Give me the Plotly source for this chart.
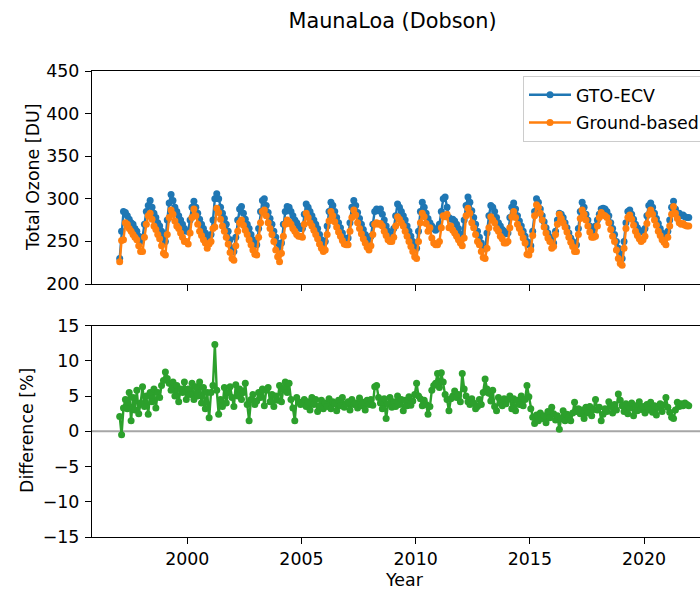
import plotly.graph_objects as go

# ---- data (monthly, Jan 1997 .. Dec 2021) ----
years = list(range(1997, 2022))
months = list(range(1, 13))

gto_ecv = [
    230, 262, 285, 284, 280, 276, 272, 270, 265, 262, 256, 250,  # 1997
    255, 270, 285, 292, 298, 290, 283, 278, 272, 268, 262, 255,  # 1998
    250, 275, 295, 305, 298, 290, 285, 280, 275, 270, 265, 262,  # 1999
    262, 275, 290, 297, 290, 283, 276, 270, 265, 260, 255, 252,  # 2000
    258, 275, 300, 306, 300, 290, 283, 277, 270, 262, 252, 242,  # 2001
    238, 255, 275, 288, 291, 283, 276, 270, 265, 258, 252, 246,  # 2002
    246, 265, 285, 298, 300, 292, 284, 277, 270, 262, 255, 248,  # 2003
    242, 248, 270, 285, 291, 290, 285, 280, 275, 272, 268, 265,  # 2004
    265, 282, 294, 290, 285, 280, 275, 270, 265, 258, 252, 246,  # 2005
    250, 268, 285, 296, 292, 285, 278, 272, 266, 260, 254, 250,  # 2006
    254, 272, 290, 298, 292, 284, 277, 270, 264, 258, 252, 249,  # 2007
    256, 270, 285, 288, 286, 288, 282, 275, 268, 262, 258, 257,  # 2008
    265, 280, 294, 290, 285, 280, 275, 268, 262, 256, 250, 244,  # 2009
    242, 262, 285, 296, 290, 283, 277, 272, 268, 265, 263, 265,  # 2010
    270, 285, 300, 302, 290, 278, 276, 276, 274, 270, 265, 258,  # 2011
    258, 275, 292, 302, 296, 286, 278, 270, 262, 255, 248, 242,  # 2012
    242, 260, 280, 292, 290, 285, 278, 272, 268, 264, 262, 259,  # 2013
    260, 278, 290, 295, 288, 280, 274, 268, 262, 256, 250, 246,  # 2014
    245, 262, 285, 300, 296, 288, 280, 273, 266, 260, 255, 250,  # 2015
    248, 262, 275, 283, 282, 278, 272, 266, 260, 254, 250, 248,  # 2016
    246, 265, 285, 296, 290, 282, 275, 268, 262, 257, 268, 275,  # 2017
    282, 288, 289, 288, 285, 280, 272, 265, 258, 250, 242, 235,  # 2018
    230, 250, 272, 285, 287, 282, 276, 270, 266, 263, 261, 262,  # 2019
    265, 280, 292, 295, 290, 283, 277, 271, 265, 260, 256, 258,  # 2020
    262, 275, 290, 297, 288, 282, 283, 280, 281, 279, 278, 278,  # 2021
]

ground_based = [
    226, 251, 252, 272, 270, 265, 262, 258, 255, 252, 245, 238,  # 1997
    238, 255, 270, 280, 283, 276, 268, 264, 258, 253, 245, 236,  # 1998
    234, 258, 278, 287, 282, 274, 268, 265, 260, 255, 250, 250,  # 1999
    247, 260, 278, 288, 280, 270, 262, 257, 252, 248, 242, 247,  # 2000
    250, 265, 267, 289, 284, 276, 268, 262, 255, 247, 237, 230,  # 2001
    228, 245, 262, 272, 275, 269, 263, 258, 252, 246, 240, 235,  # 2002
    234, 255, 272, 285, 287, 280, 272, 265, 258, 250, 240, 232,  # 2003
    226, 236, 256, 270, 275, 273, 270, 265, 262, 258, 256, 256,  # 2004
    255, 270, 283, 278, 272, 268, 263, 258, 253, 247, 242, 238,  # 2005
    240, 258, 274, 285, 280, 273, 267, 261, 256, 251, 247, 246,  # 2006
    246, 262, 278, 287, 281, 272, 265, 259, 253, 248, 243, 240,  # 2007
    245, 258, 270, 272, 270, 271, 268, 262, 257, 252, 250, 250,  # 2008
    255, 268, 279, 276, 272, 268, 262, 256, 250, 244, 238, 232,  # 2009
    230, 250, 272, 283, 279, 271, 262, 266, 254, 248, 246, 246,  # 2010
    250, 266, 280, 279, 282, 266, 268, 263, 260, 256, 252, 248,  # 2011
    245, 254, 280, 289, 283, 272, 266, 258, 250, 246, 238, 231,  # 2012
    230, 242, 266, 279, 275, 272, 265, 262, 256, 253, 248, 248,  # 2013
    250, 266, 279, 285, 278, 270, 265, 260, 254, 248, 235, 234,  # 2014
    240, 257, 280, 293, 290, 283, 275, 267, 260, 254, 250, 242,  # 2015
    244, 258, 270, 282, 277, 272, 267, 261, 255, 249, 244, 238,  # 2016
    238, 258, 277, 287, 282, 275, 268, 261, 255, 255, 256, 268,  # 2017
    278, 284, 281, 280, 278, 272, 264, 256, 250, 240, 230, 224,  # 2018
    222, 242, 265, 278, 281, 276, 269, 262, 257, 253, 250, 252,  # 2019
    256, 271, 282, 287, 282, 275, 269, 262, 257, 252, 249, 246,  # 2020
    255, 268, 282, 291, 283, 277, 272, 270, 271, 269, 268, 268,  # 2021
]

difference = [
    2.1, -0.5, 3.3, 4.5, 3.2, 5.5, 1.5, 4.8, 3.0, 5.8, 2.5, 4.0,  # 1997
    6.3, 3.5, 5.0, 2.4, 5.5, 4.2, 6.0, 3.3, 5.5, 4.8, 6.5, 7.2,   # 1998
    8.4, 7.5, 6.8, 5.8, 7.0, 5.0, 6.5, 4.2, 6.0, 5.5, 7.0, 4.5,   # 1999
    6.0, 5.2, 6.8, 4.5, 6.3, 5.0, 7.0, 4.0, 6.2, 3.2, 5.5, 1.9,   # 2000
    5.5, 6.5, 12.3, 5.8, 2.4, 4.5, 3.5, 6.2, 4.0, 5.5, 6.3, 4.8,  # 2001
    3.5, 6.6, 5.0, 6.0, 4.5, 5.5, 6.8, 3.8, 1.5, 4.5, 5.2, 3.8,   # 2002
    4.3, 5.5, 4.8, 6.0, 3.6, 5.8, 6.2, 4.2, 5.2, 3.5, 5.0, 4.4,   # 2003
    6.5, 4.2, 6.0, 7.0, 5.5, 6.8, 4.5, 3.3, 1.5, 4.8, 4.2, 3.8,   # 2004
    3.9, 4.5, 3.5, 4.2, 3.0, 4.8, 3.8, 4.5, 2.8, 3.6, 4.4, 3.2,   # 2005
    4.0, 3.5, 4.6, 3.2, 4.2, 3.9, 2.9, 4.4, 3.6, 4.8, 3.4, 3.9,   # 2006
    4.2, 3.0, 4.5, 3.8, 4.0, 3.3, 4.7, 3.6, 4.1, 3.0, 4.4, 3.8,   # 2007
    4.5, 3.7, 6.3, 6.5, 4.8, 4.0, 3.2, 4.6, 1.8, 3.9, 4.8, 3.4,   # 2008
    4.2, 3.5, 5.0, 3.8, 4.5, 2.9, 4.4, 3.6, 4.9, 3.7, 4.3, 5.2,   # 2009
    6.8, 5.0, 4.6, 3.6, 4.4, 3.8, 2.4, 3.5, 5.8, 6.5, 6.8, 8.2,   # 2010
    6.2, 8.3, 7.0, 5.2, 4.5, 2.9, 4.6, 5.0, 5.7, 4.8, 5.2, 4.2,   # 2011
    8.2, 6.0, 5.0, 4.2, 3.8, 4.6, 4.0, 3.2, 3.5, 4.5, 3.8, 5.5,   # 2012
    7.4, 6.0, 5.4, 4.3, 5.8, 3.5, 2.9, 4.8, 4.0, 3.6, 4.6, 3.9,   # 2013
    4.5, 5.0, 3.2, 4.6, 2.9, 4.4, 3.8, 5.0, 3.6, 4.5, 6.5, 4.9,   # 2014
    3.2, 2.0, 1.1, 2.3, 1.5, 2.6, 1.8, 2.2, 1.2, 2.8, 1.9, 3.4,   # 2015
    2.5, 1.6, 2.2, 0.3, 1.8, 2.9, 1.5, 2.4, 2.0, 1.5, 2.6, 4.1,   # 2016
    2.8, 3.2, 2.5, 3.0, 1.8, 3.4, 2.6, 3.5, 2.2, 3.1, 4.5, 3.0,   # 2017
    3.4, 1.5, 2.4, 3.2, 2.8, 4.2, 3.5, 2.6, 3.8, 3.0, 5.3, 4.4,   # 2018
    3.6, 2.8, 3.9, 2.5, 3.3, 4.0, 2.2, 3.6, 2.9, 4.2, 3.1, 3.5,   # 2019
    2.6, 3.8, 3.0, 4.1, 2.7, 3.6, 2.3, 3.4, 3.9, 2.8, 3.7, 4.8,   # 2020
    3.4, 2.7, 2.0, 1.8, 3.0, 4.1, 3.5, 3.9, 3.6, 4.0, 3.8, 3.6,   # 2021
]

x_ticks = [2000, 2005, 2010, 2015, 2020]
title_text = "MaunaLoa (Dobson)"

# time axis in decimal years (mid-month)
t = [y + (m - 0.5) / 12.0 for y in years for m in months]

# ---- figure ----
W, H = 700, 590
L, R, T, B = 92, 0, 71, 53
PH = H - T - B
FONT = "DejaVu Sans"
FS = 17.4
INK = "black"

BLUE, ORANGE, GREEN = "#1f77b4", "#ff7f0e", "#2ca02c"
LW, MS = 2.4, 7

fig = go.Figure()
fig.add_trace(go.Scatter(x=t, y=gto_ecv, mode="lines+markers", name="GTO-ECV",
                         line=dict(color=BLUE, width=LW), marker=dict(size=MS, color=BLUE),
                         xaxis="x", yaxis="y", legendgroup="g1"))
fig.add_trace(go.Scatter(x=t, y=ground_based, mode="lines+markers", name="Ground-based",
                         line=dict(color=ORANGE, width=LW), marker=dict(size=MS, color=ORANGE),
                         xaxis="x", yaxis="y", legendgroup="g2"))
fig.add_trace(go.Scatter(x=t, y=difference, mode="lines+markers", name="Difference",
                         line=dict(color=GREEN, width=LW), marker=dict(size=MS, color=GREEN),
                         xaxis="x2", yaxis="y2", showlegend=False))

# zero line in difference panel
fig.add_shape(type="line", xref="x2 domain", yref="y2", x0=0, x1=1, y0=0, y1=0,
              line=dict(color="#a6a6a6", width=2), layer="below")

x_lo = 2000 - (187 - 91.7) / 22.85
x_hi = 2000 + (700 - 187) / 22.85

axis_common = dict(showgrid=False, zeroline=False, showline=True, linecolor="black",
                   linewidth=1.3, ticks="outside", ticklen=6, tickwidth=1.3, tickcolor="black",
                   tickfont=dict(family=FONT, size=FS, color=INK))

top_lo = 1 - (284 - T) / PH
bot_hi = (H - B - 325.5) / PH

fig.update_layout(
    width=W, height=H,
    margin=dict(l=L, r=R, t=T, b=B, autoexpand=False),
    paper_bgcolor="white", plot_bgcolor="white",
    font=dict(family=FONT, size=FS, color=INK),
    title=dict(text=title_text, xref="container", yref="container",
               x=392.5 / W, xanchor="center", y=1 - 20.5 / H, yanchor="middle",
               font=dict(family=FONT, size=20.8, color=INK)),
    xaxis=dict(domain=[0, 1], range=[x_lo, x_hi], anchor="y", mirror=True,
               tickvals=x_ticks, showticklabels=False, **axis_common),
    yaxis=dict(domain=[top_lo, 1], range=[200, 450], anchor="x", mirror=False,
               tickvals=[200, 250, 300, 350, 400, 450], ticklabelstandoff=2, **axis_common),
    xaxis2=dict(domain=[0, 1], range=[x_lo, x_hi], anchor="y2", mirror=True,
                tickvals=x_ticks, ticktext=[str(v) for v in x_ticks],
                ticklabelstandoff=0, **axis_common),
    yaxis2=dict(domain=[0, bot_hi], range=[-15, 15], anchor="x2", mirror=False,
                tickvals=[-15, -10, -5, 0, 5, 10, 15], ticklabelstandoff=2, **axis_common),
    legend=dict(xref="container", yref="container", x=523 / W, y=1 - 76 / H,
                xanchor="left", yanchor="top", bgcolor="rgba(255,255,255,0.8)",
                bordercolor="#cccccc", borderwidth=1, tracegroupgap=2,
                font=dict(family=FONT, size=FS, color=INK), itemwidth=42),
    showlegend=True,
)

# axis titles
def px_to_paper_x(px):
    return (px - L) / (W - L - R)

def px_to_paper_y(py):
    return (H - B - py) / PH

fig.add_annotation(text="Total Ozone [DU]", xref="paper", yref="paper",
                   x=px_to_paper_x(32.5), y=px_to_paper_y(177.5), textangle=-90,
                   showarrow=False, xanchor="center", yanchor="middle",
                   font=dict(family=FONT, size=FS, color=INK))
fig.add_annotation(text="Difference [%]", xref="paper", yref="paper",
                   x=px_to_paper_x(27), y=px_to_paper_y(431), textangle=-90,
                   showarrow=False, xanchor="center", yanchor="middle",
                   font=dict(family=FONT, size=FS, color=INK))
fig.add_annotation(text="Year", xref="paper", yref="paper",
                   x=px_to_paper_x(404.5), y=px_to_paper_y(579.5), showarrow=False,
                   xanchor="center", yanchor="middle", borderpad=0,
                   font=dict(family=FONT, size=FS, color=INK))

fig.write_html("out.html")
